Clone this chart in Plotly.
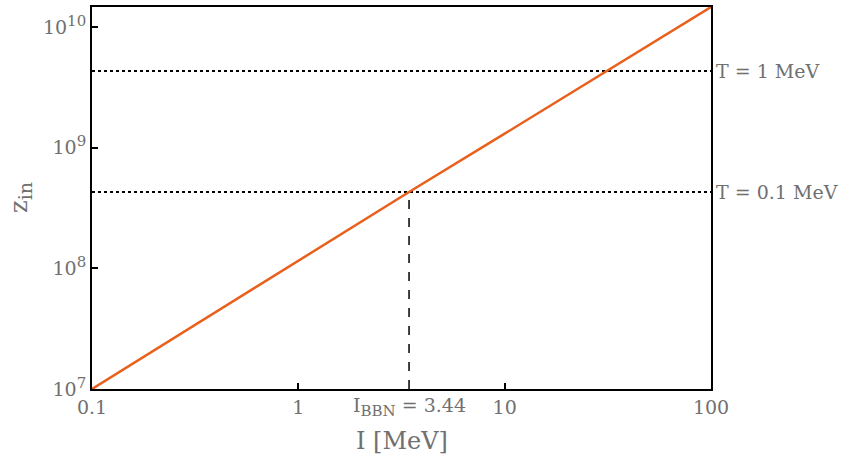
import numpy as np
import plotly.graph_objects as go

# Data
I_vals = [0.1, 1, 3.44, 10, 100]
z_vals = [1.0e7, 1.155e8, 4.3e8, 1.31e9, 1.47e10]
T_labels = ["T = 1 MeV", "T = 0.1 MeV"]
T_z = [4.33e9, 4.3e8]
I_BBN = 3.44
x_ticks = [0.1, 1, 10, 100]
x_ticktext = ["0.1", "1", "10", "100"]
y_ticks = [1e7, 1e8, 1e9, 1e10]
y_exps = ["7", "8", "9", "10"]

FONT = "DejaVu Serif"
GRAY = "#707070"
SUP = "<sup><span style='font-size:15px'>{}</span></sup>"
y_ticktext = ["10" + SUP.format(e) for e in y_exps]

fig = go.Figure()

for tz in T_z:
    fig.add_trace(go.Scatter(x=[x_ticks[0], x_ticks[-1]], y=[tz, tz], mode="lines",
                             line=dict(color="black", width=2, dash="dot"),
                             showlegend=False, hoverinfo="skip"))

fig.add_trace(go.Scatter(x=[I_BBN, I_BBN], y=[y_ticks[0], T_z[1]], mode="lines",
                         line=dict(color="black", width=1.5, dash="dash"),
                         showlegend=False, hoverinfo="skip"))

fig.add_trace(go.Scatter(x=I_vals, y=z_vals, mode="lines",
                         line=dict(color="#E8601C", width=2.5), showlegend=False))

for lab, tz in zip(T_labels, T_z):
    fig.add_annotation(x=1.0, xref="paper", y=np.log10(tz), yref="y", text=lab,
                       showarrow=False, xanchor="left", xshift=3,
                       font=dict(family=FONT, size=19, color=GRAY))

fig.add_annotation(x=np.log10(I_BBN), xref="x", y=0, yref="paper",
                   text="I<sub><span style='font-size:15px'>BBN</span></sub> = 3.44", showarrow=False,
                   yanchor="top", yshift=-3,
                   font=dict(family=FONT, size=19, color=GRAY))

# axis titles
fig.add_annotation(x=0.5, xref="paper", y=0, yref="paper", text="I [MeV]",
                   showarrow=False, yanchor="middle", yshift=-52,
                   font=dict(family=FONT, size=24, color=GRAY))
fig.add_annotation(x=0, xref="paper", y=0.5, yref="paper",
                   text="z<sub><span style='font-size:19px'>in</span></sub>",
                   showarrow=False, xanchor="center", xshift=-72, textangle=-90,
                   font=dict(family=FONT, size=24, color=GRAY))

fig.update_xaxes(type="log", range=[np.log10(0.1), np.log10(100)],
                 tickvals=x_ticks, ticktext=x_ticktext,
                 ticks="inside", ticklen=6, tickwidth=1.5, tickcolor="black",
                 showline=True, linecolor="black", linewidth=2, mirror=True,
                 showgrid=False, zeroline=False, automargin=False,
                 tickfont=dict(family=FONT, size=19, color=GRAY))
fig.update_yaxes(type="log", range=[7, np.log10(z_vals[-1])],
                 tickvals=y_ticks, ticktext=y_ticktext,
                 ticks="inside", ticklen=6, tickwidth=1.5, tickcolor="black",
                 showline=True, linecolor="black", linewidth=2, mirror=True,
                 showgrid=False, zeroline=False, automargin=False,
                 tickfont=dict(family=FONT, size=19, color=GRAY))

fig.update_layout(width=845, height=454, margin=dict(l=92, r=134, t=7, b=65),
                  plot_bgcolor="white", paper_bgcolor="white")

fig.write_html("out.html")
